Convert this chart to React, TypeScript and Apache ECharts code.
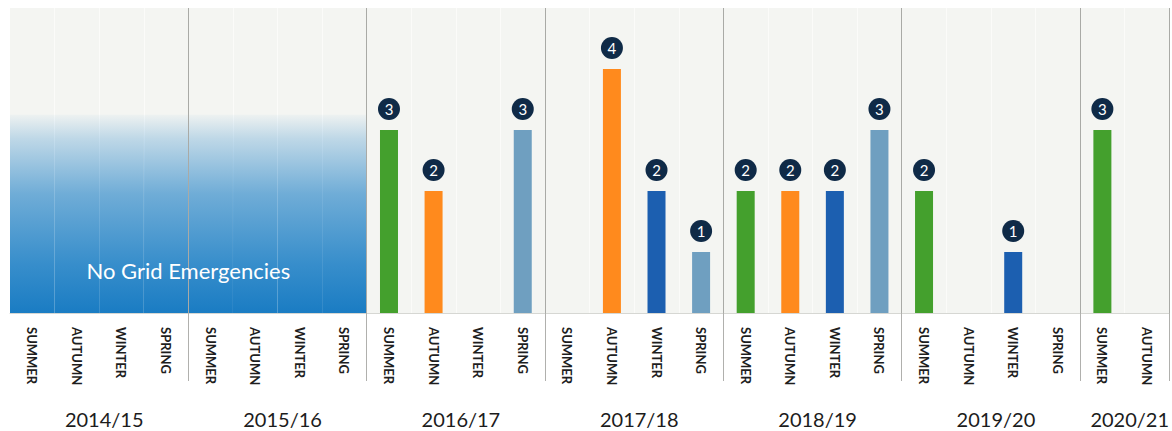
import React, { useEffect, useRef } from "react";
import * as echarts from "echarts";

// Financial years and the seasons reported in each
const years = ["2014/15", "2015/16", "2016/17", "2017/18", "2018/19", "2019/20", "2020/21"];
const seasons = ["SUMMER", "AUTUMN", "WINTER", "SPRING"];
const seasonsPerYear = [4, 4, 4, 4, 4, 4, 2];

// Grid emergencies per season, in chronological order
const emergencies = [
  0, 0, 0, 0,
  0, 0, 0, 0,
  3, 2, 0, 3,
  0, 4, 2, 1,
  2, 2, 2, 3,
  2, 0, 1, 0,
  3, 0,
];

const seasonColors: Record<string, string> = {
  SUMMER: "#44a02d",
  AUTUMN: "#ff8a1d",
  WINTER: "#1c5fb0",
  SPRING: "#6f9fc0",
};

// Years with no emergencies get a shaded band
const quietYears = ["2014/15", "2015/16"];
const quietBandLevel = 3.25;
const quietText = "No Grid Emergencies";

const FONT = "Lato, 'Open Sans', sans-serif";

export default function App() {
  const ref = useRef<HTMLDivElement>(null);

  useEffect(() => {
    if (!ref.current) return;
    const chart = echarts.init(ref.current, undefined, { renderer: "svg" });

    const categories: string[] = [];
    const catYear: string[] = [];
    const catSeason: string[] = [];
    const yearLabelIdx: Record<number, string> = {};
    const yearStarts: number[] = [];
    years.forEach((y, yi) => {
      const start = categories.length;
      yearStarts.push(start);
      const n = seasonsPerYear[yi];
      for (let s = 0; s < n; s++) {
        categories.push(`${y} ${seasons[s]}`);
        catYear.push(y);
        catSeason.push(seasons[s]);
      }
      yearLabelIdx[start + Math.floor(n / 2 - 0.5)] = y;
    });

    const isYearStart = (i: number) => i > 0 && yearStarts.includes(i);

    const gridLeft = 10;
    const gridRight = 2;
    const width = 1172;
    const catWidth = (width - gridLeft - gridRight) / categories.length;

    const barData = emergencies.map((v, i) => ({
      value: v,
      itemStyle: { color: seasonColors[catSeason[i]] },
      label: { show: v > 0 },
    }));

    const bandData = categories.map((_, i) =>
      quietYears.includes(catYear[i]) ? quietBandLevel : "-"
    );

    chart.setOption({
      animation: false,
      grid: {
        left: gridLeft,
        right: gridRight,
        top: 8,
        bottom: 118,
        show: true,
        backgroundColor: "#f4f5f2",
        borderWidth: 0,
      },
      xAxis: [
        {
          type: "category",
          data: categories,
          position: "bottom",
          axisLine: { show: true, lineStyle: { color: "#d6d7d3", width: 1 } },
          axisTick: {
            show: true,
            interval: (i: number) => isYearStart(i),
            length: 68,
            lineStyle: { color: "#b0b0ad" },
          },
          splitLine: {
            show: true,
            interval: (i: number) => isYearStart(i),
            lineStyle: { color: "#a9aaa6", width: 1 },
          },
          axisLabel: {
            interval: 0,
            rotate: -90,
            margin: 14,
            formatter: (v: string) => v.split(" ")[1],
            fontSize: 13,
            fontWeight: "bold",
            color: "#1e1e1e",
            fontFamily: FONT,
          },
          z: 5,
        },
        {
          type: "category",
          data: categories,
          position: "bottom",
          axisLine: { show: false },
          axisTick: { show: false },
          splitLine: {
            show: true,
            interval: (i: number) => i > 0 && !isYearStart(i),
            lineStyle: { color: "#fbfbf9", width: 1 },
          },
          axisLabel: {
            interval: (i: number) => yearLabelIdx[i] !== undefined,
            formatter: (_v: string, i: number) => yearLabelIdx[i] ?? "",
            margin: 95,
            padding: [0, 0, 0, catWidth + 10],
            fontSize: 20,
            lineHeight: 22,
            color: "#1c1c1c",
            fontFamily: FONT,
          },
        },
      ],
      yAxis: {
        type: "value",
        min: 0,
        max: 5,
        show: false,
        splitLine: { show: false },
      },
      series: [
        {
          type: "bar",
          xAxisIndex: 1,
          barWidth: "100%",
          data: bandData,
          silent: true,
          itemStyle: {
            color: new echarts.graphic.LinearGradient(0, 0, 0, 1, [
              { offset: 0, color: "rgba(30,128,198,0.03)" },
              { offset: 0.12, color: "rgba(30,128,198,0.25)" },
              { offset: 0.4, color: "rgba(30,128,198,0.62)" },
              { offset: 0.75, color: "rgba(30,128,198,0.88)" },
              { offset: 1, color: "rgba(26,124,195,1)" },
            ]),
          },
          z: 1,
        },
        {
          type: "bar",
          xAxisIndex: 0,
          barWidth: 18,
          data: barData,
          z: 3,
          label: {
            position: "top",
            distance: 10,
            formatter: "{b|{c}}",
            rich: {
              b: {
                width: 22,
                height: 22,
                lineHeight: 22,
                borderRadius: 11,
                backgroundColor: "#0f2a47",
                color: "#ffffff",
                align: "center",
                fontSize: 15,
                fontFamily: FONT,
              },
            },
          },
        },
      ],
    });

    // Centre the caption over the shaded band
    const first = categories.findIndex((_, i) => quietYears.includes(catYear[i]));
    let last = first;
    categories.forEach((_, i) => {
      if (quietYears.includes(catYear[i])) last = i;
    });
    const x0 = chart.convertToPixel({ xAxisIndex: 0 }, categories[first]) as number;
    const x1 = chart.convertToPixel({ xAxisIndex: 0 }, categories[last]) as number;
    const yText = chart.convertToPixel({ yAxisIndex: 0 }, 0.7) as number;
    chart.setOption({
      graphic: [
        {
          type: "text",
          x: (x0 + x1) / 2,
          y: yText,
          z: 10,
          style: {
            text: quietText,
            fill: "#ffffff",
            font: `22px ${FONT}`,
            align: "center",
            verticalAlign: "middle",
          },
        },
      ],
    });

    return () => chart.dispose();
  }, []);

  return (
    <div
      ref={ref}
      style={{ position: "fixed", left: 0, top: 0, width: 1172, height: 431, background: "#ffffff" }}
    />
  );
}
